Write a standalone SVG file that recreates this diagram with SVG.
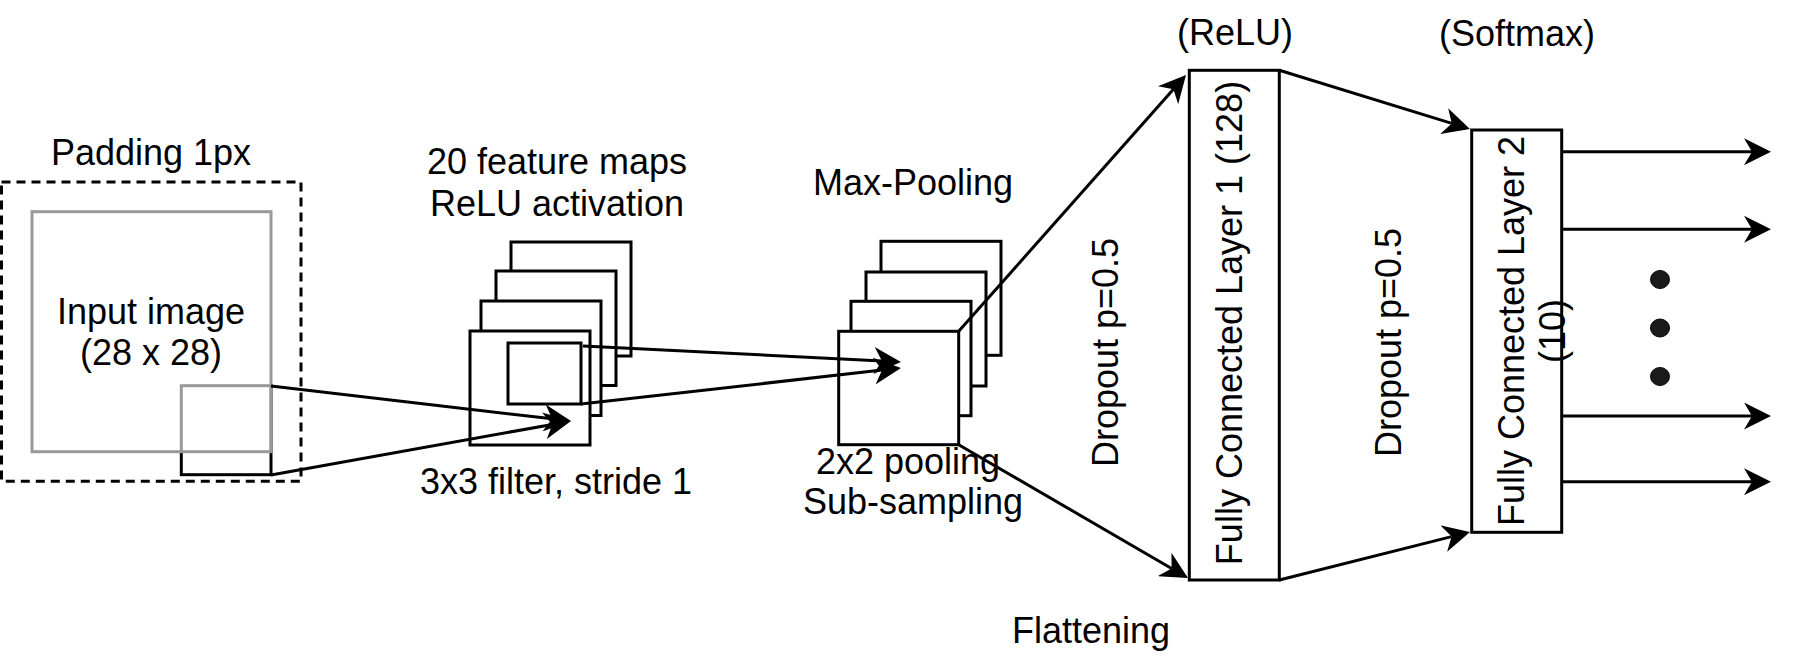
<svg xmlns="http://www.w3.org/2000/svg" width="1797" height="669" viewBox="0 0 1797 669">
<style>
  .t { font-family: "Liberation Sans", Arial, sans-serif; font-size: 36px; fill: #000; text-anchor: middle; }
  .box { fill: #fff; stroke: #000; stroke-width: 3; }
  .edge { fill: none; stroke: #000; stroke-width: 3; marker-end: url(#arr); }
  .dot { fill: #1a1a1a; stroke: #000; stroke-width: 1; }
</style>
<defs>
  <marker id="arr" markerUnits="userSpaceOnUse" markerWidth="27" markerHeight="27" viewBox="0 0 27 27" refX="8" refY="13.5" orient="auto">
    <path d="M0,0 L27,13.5 L0,27 L8,13.5 Z" fill="#000"/>
  </marker>
</defs>
<rect width="1797" height="669" fill="#fff"/>

<g id="padding">
  <rect x="1.5" y="182" width="299.5" height="299.3" fill="none" stroke="#000" stroke-width="3" stroke-dasharray="9 6"/>
  <text class="t" x="151" y="165">Padding 1px</text>
</g>
<g id="filter-window">
  <rect x="181.3" y="385.7" width="89.7" height="89" fill="none" stroke="#000" stroke-width="3"/>
</g>
<g id="input-image">
  <rect x="32" y="211.7" width="239" height="240" fill="#fff" fill-opacity="0.6" stroke="#999" stroke-width="3"/>
  <text class="t" x="151" y="324">Input image</text>
  <text class="t" x="151" y="365">(28 x 28)</text>
</g>

<g id="feature-maps">
  <rect class="box" x="511" y="242" width="120" height="114"/>
  <rect class="box" x="496" y="271" width="120" height="114.5"/>
  <rect class="box" x="481" y="301" width="120" height="114.5"/>
  <rect class="box" x="470" y="331" width="120" height="114"/>
  <rect class="box" x="508" y="343" width="73" height="61"/>
  <text class="t" x="557" y="174">20 feature maps</text>
  <text class="t" x="557" y="216">ReLU activation</text>
  <text class="t" x="556" y="494">3x3 filter, stride 1</text>
</g>

<g id="max-pooling">
  <rect class="box" x="881" y="241.3" width="120" height="114"/>
  <rect class="box" x="866" y="272" width="120" height="114"/>
  <rect class="box" x="851" y="301.3" width="120" height="114.4"/>
  <rect class="box" x="838.7" y="331.3" width="120" height="113.4"/>
  <text class="t" x="913" y="195">Max-Pooling</text>
</g>

<g id="fc1">
  <rect class="box" x="1189.3" y="70.3" width="90" height="509.7"/>
  <text class="t" transform="translate(1242,323) rotate(-90)">Fully Connected Layer 1 (128)</text>
  <text class="t" x="1235" y="45">(ReLU)</text>
</g>

<g id="fc2">
  <rect class="box" x="1471.7" y="130" width="90" height="402.3"/>
  <text class="t" transform="translate(1524,331) rotate(-90)">Fully Connected Layer 2</text>
  <text class="t" transform="translate(1565,331) rotate(-90)">(10)</text>
  <text class="t" x="1517" y="46">(Softmax)</text>
</g>

<g id="ellipsis">
  <ellipse class="dot" cx="1660" cy="279.5" rx="9.5" ry="9"/>
  <ellipse class="dot" cx="1660" cy="328" rx="9.5" ry="9"/>
  <ellipse class="dot" cx="1660" cy="376.5" rx="9.5" ry="9"/>
</g>

<g id="labels">
  <text class="t" x="908" y="473.5">2x2 pooling</text>
  <text class="t" x="913" y="514">Sub-sampling</text>
  <text class="t" x="1091" y="643">Flattening</text>
  <text class="t" transform="translate(1118,352.5) rotate(-90)">Dropout p=0.5</text>
  <text class="t" transform="translate(1401,342.5) rotate(-90)">Dropout p=0.5</text>
</g>

<g id="connectors">
  <path class="edge" d="M271,386 L552.1,418.8"/>
  <path class="edge" d="M271,475 L552.3,424.4"/>
  <path class="edge" d="M583,346 L882,361"/>
  <path class="edge" d="M581,404 L882.1,370.1"/>
  <path class="edge" d="M958.7,331.3 L1173.4,89.2"/>
  <path class="edge" d="M958.7,444.7 L1171.6,568.5"/>
  <path class="edge" d="M1279.3,70.3 L1451.8,123.4"/>
  <path class="edge" d="M1279.3,580 L1451.6,536.6"/>
  <path class="edge" d="M1561.7,151.7 L1752,151.7"/>
  <path class="edge" d="M1561.7,229.3 L1752,229.3"/>
  <path class="edge" d="M1561.7,416 L1752,416"/>
  <path class="edge" d="M1561.7,481.7 L1752,481.7"/>
</g>
</svg>
